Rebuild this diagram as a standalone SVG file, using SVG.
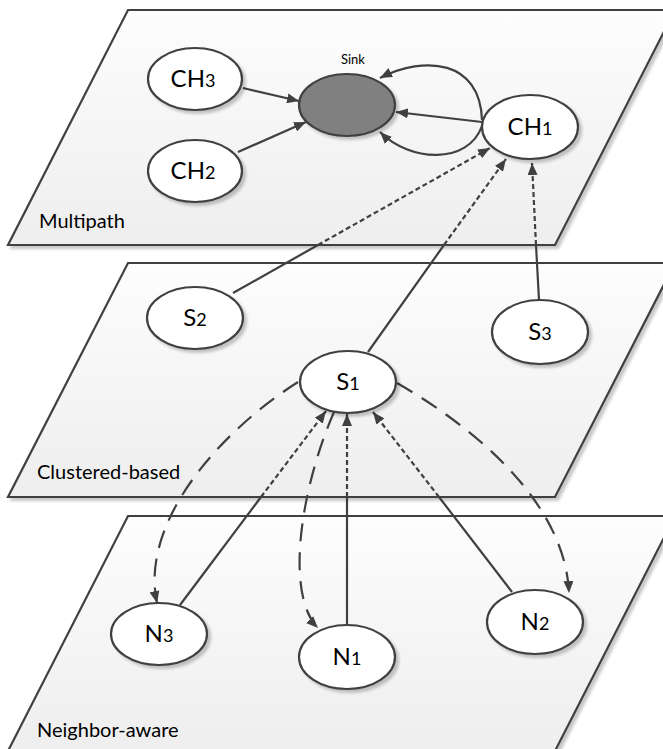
<svg xmlns="http://www.w3.org/2000/svg" width="663" height="749" viewBox="0 0 663 749">
  <defs>
    <linearGradient id="planeFill" x1="0" y1="0" x2="0" y2="1">
      <stop offset="0" stop-color="#fdfdfd"/>
      <stop offset="1" stop-color="#eeeeee"/>
    </linearGradient>
    <filter id="shadow" x="-10%" y="-10%" width="130%" height="130%">
      <feGaussianBlur in="SourceAlpha" stdDeviation="1.5"/>
      <feOffset dx="3" dy="3" result="off"/>
      <feComponentTransfer><feFuncA type="linear" slope="0.22"/></feComponentTransfer>
      <feMerge><feMergeNode/><feMergeNode in="SourceGraphic"/></feMerge>
    </filter>
    <marker id="arrow" markerUnits="userSpaceOnUse" markerWidth="13" markerHeight="10" refX="12" refY="5" orient="auto">
      <path d="M0,0 L12,5 L0,10 z" fill="#404040"/>
    </marker>
  </defs>
  <style>
    .plane { fill: url(#planeFill); stroke: #404040; stroke-width: 2.2; stroke-linejoin: miter; }
    .node ellipse { fill: #ffffff; stroke: #404040; stroke-width: 2.2; }
    .sink ellipse { fill: #808080; }
    .lbl { font-family: Lato, "Open Sans", sans-serif; font-size: 24px; fill: #000; text-anchor: middle; }
    .lbl tspan.sub { font-size: 18px; }
    .plane-lbl { font-family: Lato, "Open Sans", sans-serif; font-size: 20px; fill: #000; }
    .small { font-family: Lato, "Open Sans", sans-serif; font-size: 13px; fill: #000; text-anchor: middle; }
    .edge { fill: none; stroke: #404040; stroke-width: 2.2; }
    .dot { stroke-dasharray: 5 3; }
    .dash { stroke-dasharray: 18 11; }
    .arr { marker-end: url(#arrow); }
  </style>

  <!-- layers -->
  <g id="layer-multipath" filter="url(#shadow)">
    <polygon class="plane" points="128,10 675,10 555,245 8,245"/>
  </g>
  <g id="layer-clustered" filter="url(#shadow)">
    <polygon class="plane" points="128,263 675,263 555,497 8,497"/>
  </g>
  <g id="layer-neighbor" filter="url(#shadow)">
    <polygon class="plane" points="128,516 675,516 555,751 8,751"/>
  </g>
  <text class="plane-lbl" x="39" y="228">Multipath</text>
  <text class="plane-lbl" x="37" y="479">Clustered-based</text>
  <text class="plane-lbl" x="37" y="737">Neighbor-aware</text>

  <!-- connectors -->
  <g id="edges">
    <!-- cluster heads to sink -->
    <path class="edge arr" d="M243,88 L299,101"/>
    <path class="edge arr" d="M238,152 L306,122"/>
    <path class="edge arr" d="M482,122 L396,112"/>
    <path class="edge arr" d="M482,120 C480,60 425,55 380,78"/>
    <path class="edge arr" d="M482,126 C468,165 410,162 380,132"/>
    <!-- sensors to CH1 (solid below the upper layer, dotted across it) -->
    <path class="edge" d="M233,293 L318,245"/>
    <path class="edge dot arr" d="M318,245 L490,148"/>
    <path class="edge" d="M368,352 L444,245"/>
    <path class="edge dot arr" d="M444,245 L506,159"/>
    <path class="edge" d="M539,300 L536,245"/>
    <path class="edge dot arr" d="M536,245 L532,163"/>
    <!-- neighbours to S1 -->
    <path class="edge" d="M180,605 L261,497"/>
    <path class="edge dot arr" d="M261,497 L326,411"/>
    <path class="edge" d="M347,625 L347,497"/>
    <path class="edge dot arr" d="M347,497 L347,414"/>
    <path class="edge" d="M512,592 L439,497"/>
    <path class="edge dot arr" d="M439,497 L373,412"/>
    <!-- S1 to neighbours -->
    <path class="edge dash arr" d="M298,382 C215,435 140,525 157,603"/>
    <path class="edge dash arr" d="M334,412 C300,490 285,595 318,628"/>
    <path class="edge dash arr" d="M397,383 C470,425 565,500 569,593"/>
  </g>

  <!-- nodes -->
  <g id="ch3" class="node" filter="url(#shadow)">
    <ellipse cx="195" cy="79" rx="47" ry="31"/>
  </g>
  <text class="lbl" x="193" y="87">CH<tspan class="sub">3</tspan></text>
  <g id="ch2" class="node" filter="url(#shadow)">
    <ellipse cx="195" cy="171" rx="47" ry="31"/>
  </g>
  <text class="lbl" x="193" y="179">CH<tspan class="sub">2</tspan></text>
  <g id="sink" class="node sink" filter="url(#shadow)">
    <ellipse cx="347" cy="105" rx="48" ry="31"/>
  </g>
  <text class="small" x="353" y="64">Sink</text>
  <g id="ch1" class="node" filter="url(#shadow)">
    <ellipse cx="530" cy="127" rx="48" ry="32"/>
  </g>
  <text class="lbl" x="530" y="135">CH<tspan class="sub">1</tspan></text>

  <g id="s2" class="node" filter="url(#shadow)">
    <ellipse cx="195" cy="318" rx="48" ry="31"/>
  </g>
  <text class="lbl" x="195" y="326">S<tspan class="sub">2</tspan></text>
  <g id="s3" class="node" filter="url(#shadow)">
    <ellipse cx="540" cy="332" rx="48" ry="32"/>
  </g>
  <text class="lbl" x="540" y="340">S<tspan class="sub">3</tspan></text>
  <g id="s1" class="node" filter="url(#shadow)">
    <ellipse cx="348" cy="382" rx="48" ry="31"/>
  </g>
  <text class="lbl" x="348" y="390">S<tspan class="sub">1</tspan></text>

  <g id="n3" class="node" filter="url(#shadow)">
    <ellipse cx="159" cy="634" rx="48" ry="31"/>
  </g>
  <text class="lbl" x="159" y="642">N<tspan class="sub">3</tspan></text>
  <g id="n1" class="node" filter="url(#shadow)">
    <ellipse cx="347" cy="657" rx="48" ry="32"/>
  </g>
  <text class="lbl" x="347" y="665">N<tspan class="sub">1</tspan></text>
  <g id="n2" class="node" filter="url(#shadow)">
    <ellipse cx="535" cy="622" rx="48" ry="32"/>
  </g>
  <text class="lbl" x="535" y="630">N<tspan class="sub">2</tspan></text>
</svg>
